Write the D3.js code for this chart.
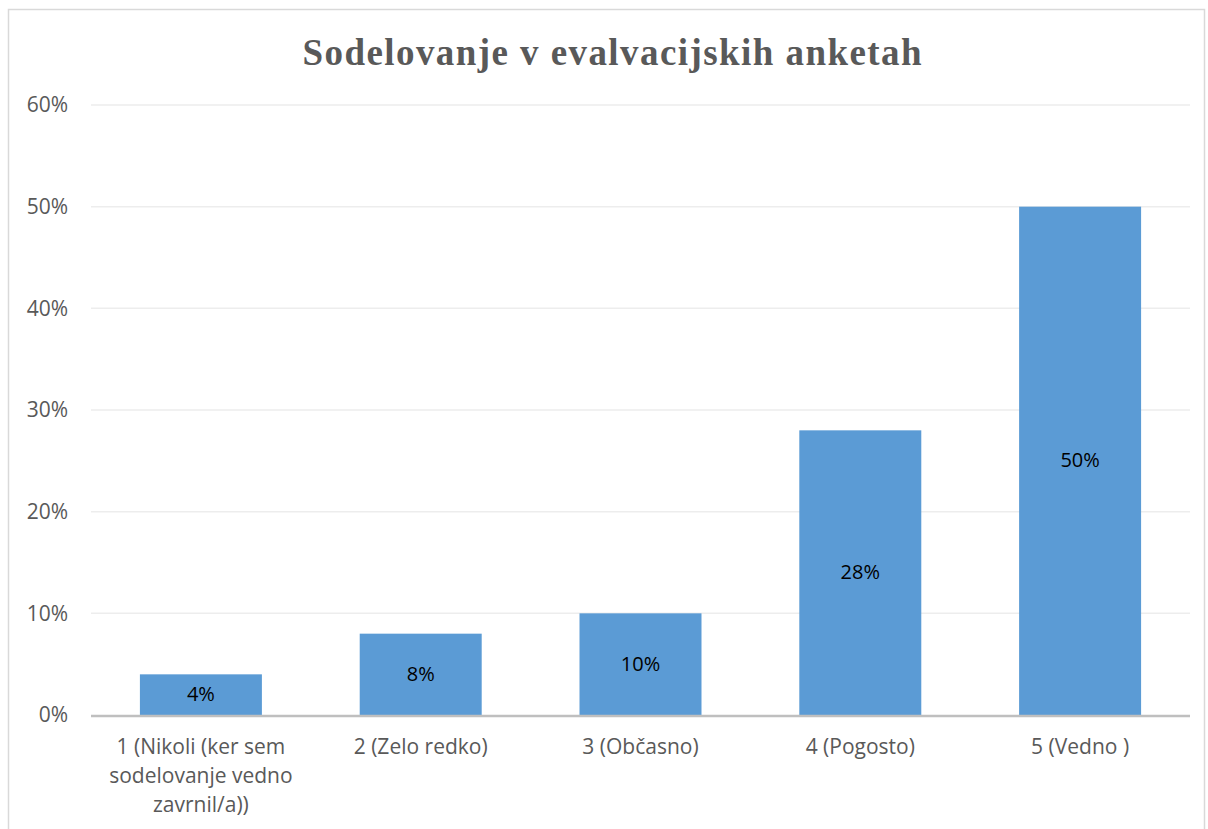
<!DOCTYPE html>
<html><head><meta charset="utf-8">
<script src="https://cdn.jsdelivr.net/npm/d3@7"></script>
<style>body{margin:0;background:#fff}svg{display:block}</style>
</head><body>
<svg id="c" width="1208" height="829"></svg>
<script>
const categories = [
  ["1 (Nikoli (ker sem", "sodelovanje vedno", "zavrnil/a))"],
  ["2 (Zelo redko)"],
  ["3 (Občasno)"],
  ["4 (Pogosto)"],
  ["5 (Vedno )"]
];
const values = [0.04, 0.08, 0.10, 0.28, 0.50];
const yTicks = [0, 0.1, 0.2, 0.3, 0.4, 0.5, 0.6];
const title = "Sodelovanje v evalvacijskih anketah";

const svg = d3.select("#c");
svg.append("rect").attr("x", 8.5).attr("y", 9.5).attr("width", 1196).attr("height", 860)
  .attr("fill", "#fff").attr("stroke", "#D9D9D9").attr("stroke-width", 1.5);

const L = 91, R = 1190, T = 105, B = 715;
const x = d3.scaleBand().domain(d3.range(values.length)).range([L, R]).padding(0);
const y = d3.scaleLinear().domain([0, 0.6]).range([B, T]);
const barW = x.bandwidth() * 0.555;

const font = "'Open Sans', sans-serif";

// gridlines
svg.append("g").selectAll("line").data(yTicks.filter(d => d > 0)).join("line")
  .attr("x1", L).attr("x2", R).attr("y1", d => y(d)).attr("y2", d => y(d))
  .attr("stroke", "#EDEDED").attr("stroke-width", 1.5);

// y tick labels
const yAxis = d3.axisLeft(y).tickValues(yTicks).tickFormat(d3.format(".0%")).tickSize(0).tickPadding(23);
const ya = svg.append("g").attr("transform", `translate(${L},0)`).call(yAxis);
ya.select(".domain").remove();
ya.selectAll("text").attr("font-family", font).attr("font-size", 21).attr("fill", "#595959");

// bars
svg.append("g").selectAll("rect").data(values).join("rect")
  .attr("x", (d, i) => x(i) + (x.bandwidth() - barW) / 2)
  .attr("width", barW)
  .attr("y", d => y(d)).attr("height", d => B - y(d))
  .attr("fill", "#5B9BD5");

// data labels
svg.append("g").selectAll("text").data(values).join("text")
  .attr("x", (d, i) => x(i) + x.bandwidth() / 2)
  .attr("y", d => (y(d) + B) / 2 + 1)
  .attr("text-anchor", "middle").attr("dominant-baseline", "middle")
  .attr("font-family", font).attr("font-size", 20).attr("fill", "#000")
  .text(d => d3.format(".0%")(d));

// x axis line
svg.append("line").attr("x1", L).attr("x2", R).attr("y1", B + 1).attr("y2", B + 1)
  .attr("stroke", "#BFBFBF").attr("stroke-width", 2.5);

// x labels
const xl = svg.append("g").selectAll("text").data(categories).join("text")
  .attr("text-anchor", "middle")
  .attr("font-family", font).attr("font-size", 21).attr("fill", "#595959");
xl.each(function(lines, i) {
  d3.select(this).selectAll("tspan").data(lines).join("tspan")
    .attr("x", x(i) + x.bandwidth() / 2)
    .attr("y", (d, j) => 754 + j * 29)
    .text(d => d);
});

// title
svg.append("text").attr("x", 612).attr("y", 65).attr("text-anchor", "middle")
  .attr("font-family", "'Liberation Serif', 'Times New Roman', serif").attr("font-weight", "bold")
  .attr("font-size", 37).attr("fill", "#595959")
  .attr("textLength", 619).attr("lengthAdjust", "spacing")
  .text(title);
</script>
</body></html>
